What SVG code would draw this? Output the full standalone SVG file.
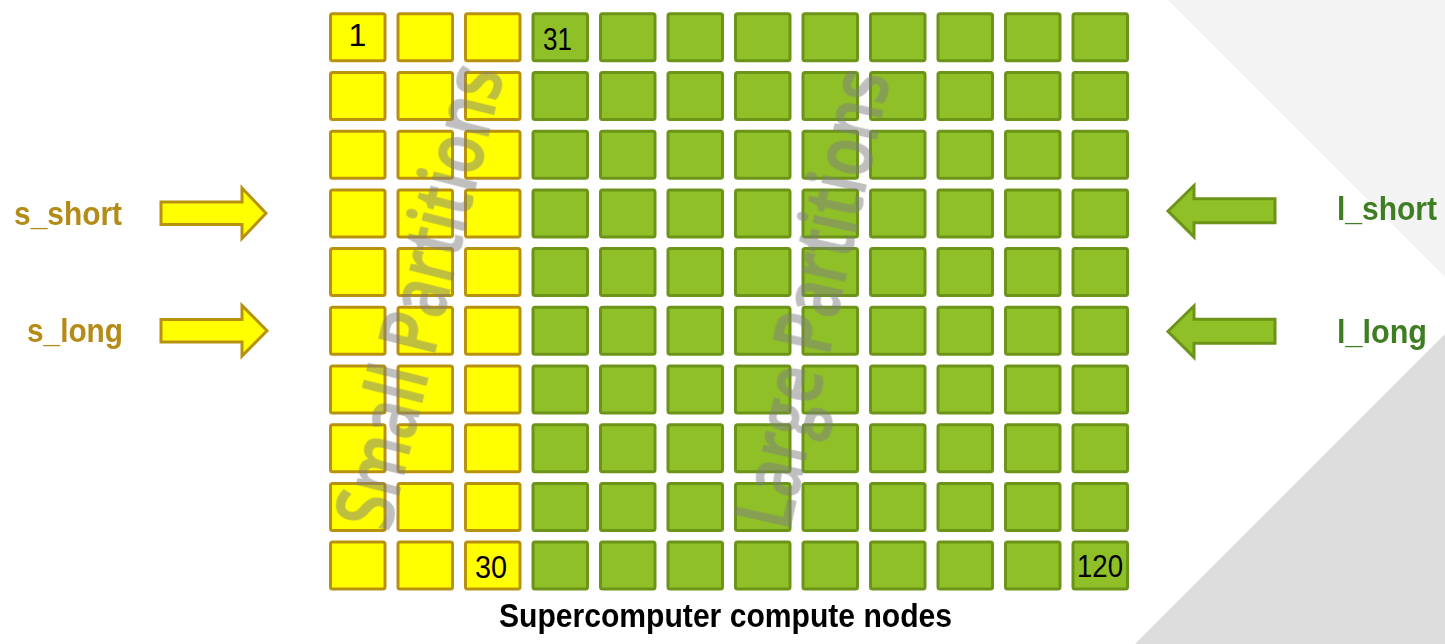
<svg xmlns="http://www.w3.org/2000/svg" width="1445" height="644" viewBox="0 0 1445 644">
<defs>
<style>
.s{fill:#FFFF00;stroke:#B8920F;stroke-width:3}
.l{fill:#90C027;stroke:#6B9419;stroke-width:3}
.num{font-family:"Liberation Sans Narrow","Liberation Sans",sans-serif;font-size:32px;fill:#000;text-anchor:middle}
.lbl{font-family:"Liberation Sans Narrow","Liberation Sans",sans-serif;font-weight:bold;font-size:33px}
.wm{font-family:"Open Sans","DejaVu Sans",sans-serif;font-weight:600;font-size:80px;fill:#7F7F7F;stroke:#7F7F7F;stroke-width:1.5}
</style>
<rect id="bs" class="s" width="54.5" height="47" rx="2"/>
<rect id="bl" class="l" width="54.5" height="47" rx="2"/>
</defs>
<rect width="1445" height="644" fill="#FFFFFF"/>
<polygon points="1168,0 1445,0 1445,277" fill="#F3F3F3"/>
<polygon points="1135,644 1445,334 1445,644" fill="#DDDDDD"/>
<g id="grid">
<g id="row0">
<g id="n1"><use href="#bs" x="330.5" y="13.8"/><text class="num" x="357.5" y="46" font-size="28">1</text></g>
<g id="n2"><use href="#bs" x="398" y="13.8"/></g>
<g id="n3"><use href="#bs" x="465.5" y="13.8"/></g>
<g id="n31"><use href="#bl" x="533" y="13.8"/><text class="num" x="557.5" y="49.5" textLength="29" lengthAdjust="spacingAndGlyphs">31</text></g>
<g id="n32"><use href="#bl" x="600.5" y="13.8"/></g>
<g id="n33"><use href="#bl" x="668" y="13.8"/></g>
<g id="n34"><use href="#bl" x="735.5" y="13.8"/></g>
<g id="n35"><use href="#bl" x="803" y="13.8"/></g>
<g id="n36"><use href="#bl" x="870.5" y="13.8"/></g>
<g id="n37"><use href="#bl" x="938" y="13.8"/></g>
<g id="n38"><use href="#bl" x="1005.5" y="13.8"/></g>
<g id="n39"><use href="#bl" x="1073" y="13.8"/></g>
</g>
<g id="row1">
<g id="n4"><use href="#bs" x="330.5" y="72.5"/></g>
<g id="n5"><use href="#bs" x="398" y="72.5"/></g>
<g id="n6"><use href="#bs" x="465.5" y="72.5"/></g>
<g id="n40"><use href="#bl" x="533" y="72.5"/></g>
<g id="n41"><use href="#bl" x="600.5" y="72.5"/></g>
<g id="n42"><use href="#bl" x="668" y="72.5"/></g>
<g id="n43"><use href="#bl" x="735.5" y="72.5"/></g>
<g id="n44"><use href="#bl" x="803" y="72.5"/></g>
<g id="n45"><use href="#bl" x="870.5" y="72.5"/></g>
<g id="n46"><use href="#bl" x="938" y="72.5"/></g>
<g id="n47"><use href="#bl" x="1005.5" y="72.5"/></g>
<g id="n48"><use href="#bl" x="1073" y="72.5"/></g>
</g>
<g id="row2">
<g id="n7"><use href="#bs" x="330.5" y="131.2"/></g>
<g id="n8"><use href="#bs" x="398" y="131.2"/></g>
<g id="n9"><use href="#bs" x="465.5" y="131.2"/></g>
<g id="n49"><use href="#bl" x="533" y="131.2"/></g>
<g id="n50"><use href="#bl" x="600.5" y="131.2"/></g>
<g id="n51"><use href="#bl" x="668" y="131.2"/></g>
<g id="n52"><use href="#bl" x="735.5" y="131.2"/></g>
<g id="n53"><use href="#bl" x="803" y="131.2"/></g>
<g id="n54"><use href="#bl" x="870.5" y="131.2"/></g>
<g id="n55"><use href="#bl" x="938" y="131.2"/></g>
<g id="n56"><use href="#bl" x="1005.5" y="131.2"/></g>
<g id="n57"><use href="#bl" x="1073" y="131.2"/></g>
</g>
<g id="row3">
<g id="n10"><use href="#bs" x="330.5" y="189.9"/></g>
<g id="n11"><use href="#bs" x="398" y="189.9"/></g>
<g id="n12"><use href="#bs" x="465.5" y="189.9"/></g>
<g id="n58"><use href="#bl" x="533" y="189.9"/></g>
<g id="n59"><use href="#bl" x="600.5" y="189.9"/></g>
<g id="n60"><use href="#bl" x="668" y="189.9"/></g>
<g id="n61"><use href="#bl" x="735.5" y="189.9"/></g>
<g id="n62"><use href="#bl" x="803" y="189.9"/></g>
<g id="n63"><use href="#bl" x="870.5" y="189.9"/></g>
<g id="n64"><use href="#bl" x="938" y="189.9"/></g>
<g id="n65"><use href="#bl" x="1005.5" y="189.9"/></g>
<g id="n66"><use href="#bl" x="1073" y="189.9"/></g>
</g>
<g id="row4">
<g id="n13"><use href="#bs" x="330.5" y="248.6"/></g>
<g id="n14"><use href="#bs" x="398" y="248.6"/></g>
<g id="n15"><use href="#bs" x="465.5" y="248.6"/></g>
<g id="n67"><use href="#bl" x="533" y="248.6"/></g>
<g id="n68"><use href="#bl" x="600.5" y="248.6"/></g>
<g id="n69"><use href="#bl" x="668" y="248.6"/></g>
<g id="n70"><use href="#bl" x="735.5" y="248.6"/></g>
<g id="n71"><use href="#bl" x="803" y="248.6"/></g>
<g id="n72"><use href="#bl" x="870.5" y="248.6"/></g>
<g id="n73"><use href="#bl" x="938" y="248.6"/></g>
<g id="n74"><use href="#bl" x="1005.5" y="248.6"/></g>
<g id="n75"><use href="#bl" x="1073" y="248.6"/></g>
</g>
<g id="row5">
<g id="n16"><use href="#bs" x="330.5" y="307.3"/></g>
<g id="n17"><use href="#bs" x="398" y="307.3"/></g>
<g id="n18"><use href="#bs" x="465.5" y="307.3"/></g>
<g id="n76"><use href="#bl" x="533" y="307.3"/></g>
<g id="n77"><use href="#bl" x="600.5" y="307.3"/></g>
<g id="n78"><use href="#bl" x="668" y="307.3"/></g>
<g id="n79"><use href="#bl" x="735.5" y="307.3"/></g>
<g id="n80"><use href="#bl" x="803" y="307.3"/></g>
<g id="n81"><use href="#bl" x="870.5" y="307.3"/></g>
<g id="n82"><use href="#bl" x="938" y="307.3"/></g>
<g id="n83"><use href="#bl" x="1005.5" y="307.3"/></g>
<g id="n84"><use href="#bl" x="1073" y="307.3"/></g>
</g>
<g id="row6">
<g id="n19"><use href="#bs" x="330.5" y="366"/></g>
<g id="n20"><use href="#bs" x="398" y="366"/></g>
<g id="n21"><use href="#bs" x="465.5" y="366"/></g>
<g id="n85"><use href="#bl" x="533" y="366"/></g>
<g id="n86"><use href="#bl" x="600.5" y="366"/></g>
<g id="n87"><use href="#bl" x="668" y="366"/></g>
<g id="n88"><use href="#bl" x="735.5" y="366"/></g>
<g id="n89"><use href="#bl" x="803" y="366"/></g>
<g id="n90"><use href="#bl" x="870.5" y="366"/></g>
<g id="n91"><use href="#bl" x="938" y="366"/></g>
<g id="n92"><use href="#bl" x="1005.5" y="366"/></g>
<g id="n93"><use href="#bl" x="1073" y="366"/></g>
</g>
<g id="row7">
<g id="n22"><use href="#bs" x="330.5" y="424.7"/></g>
<g id="n23"><use href="#bs" x="398" y="424.7"/></g>
<g id="n24"><use href="#bs" x="465.5" y="424.7"/></g>
<g id="n94"><use href="#bl" x="533" y="424.7"/></g>
<g id="n95"><use href="#bl" x="600.5" y="424.7"/></g>
<g id="n96"><use href="#bl" x="668" y="424.7"/></g>
<g id="n97"><use href="#bl" x="735.5" y="424.7"/></g>
<g id="n98"><use href="#bl" x="803" y="424.7"/></g>
<g id="n99"><use href="#bl" x="870.5" y="424.7"/></g>
<g id="n100"><use href="#bl" x="938" y="424.7"/></g>
<g id="n101"><use href="#bl" x="1005.5" y="424.7"/></g>
<g id="n102"><use href="#bl" x="1073" y="424.7"/></g>
</g>
<g id="row8">
<g id="n25"><use href="#bs" x="330.5" y="483.4"/></g>
<g id="n26"><use href="#bs" x="398" y="483.4"/></g>
<g id="n27"><use href="#bs" x="465.5" y="483.4"/></g>
<g id="n103"><use href="#bl" x="533" y="483.4"/></g>
<g id="n104"><use href="#bl" x="600.5" y="483.4"/></g>
<g id="n105"><use href="#bl" x="668" y="483.4"/></g>
<g id="n106"><use href="#bl" x="735.5" y="483.4"/></g>
<g id="n107"><use href="#bl" x="803" y="483.4"/></g>
<g id="n108"><use href="#bl" x="870.5" y="483.4"/></g>
<g id="n109"><use href="#bl" x="938" y="483.4"/></g>
<g id="n110"><use href="#bl" x="1005.5" y="483.4"/></g>
<g id="n111"><use href="#bl" x="1073" y="483.4"/></g>
</g>
<g id="row9">
<g id="n28"><use href="#bs" x="330.5" y="542.1"/></g>
<g id="n29"><use href="#bs" x="398" y="542.1"/></g>
<g id="n30"><use href="#bs" x="465.5" y="542.1"/><text class="num" x="491" y="578" textLength="32" lengthAdjust="spacingAndGlyphs">30</text></g>
<g id="n112"><use href="#bl" x="533" y="542.1"/></g>
<g id="n113"><use href="#bl" x="600.5" y="542.1"/></g>
<g id="n114"><use href="#bl" x="668" y="542.1"/></g>
<g id="n115"><use href="#bl" x="735.5" y="542.1"/></g>
<g id="n116"><use href="#bl" x="803" y="542.1"/></g>
<g id="n117"><use href="#bl" x="870.5" y="542.1"/></g>
<g id="n118"><use href="#bl" x="938" y="542.1"/></g>
<g id="n119"><use href="#bl" x="1005.5" y="542.1"/></g>
<g id="n120"><use href="#bl" x="1073" y="542.1"/><text class="num" x="1100" y="577" textLength="46" lengthAdjust="spacingAndGlyphs">120</text></g>
</g>
</g>
<g id="watermarks" opacity="0.5">
<text class="wm" transform="translate(389,533) rotate(-76)" textLength="474" lengthAdjust="spacingAndGlyphs">Small Partitions</text>
<text class="wm" transform="translate(789,532) rotate(-77.5)" textLength="466" lengthAdjust="spacingAndGlyphs">Large Partitions</text>
</g>
<g id="connectors">
<polygon class="s" points="161,202 242,202 242,188 266,213.3 242,238.5 242,224.5 161,224.5"/>
<polygon class="s" points="161,319.4 242,319.4 242,305.4 267,330.7 242,356 242,342 161,342"/>
<polygon class="l" points="1275,198.8 1194,198.8 1194,185.5 1168,211 1194,236.8 1194,222.8 1275,222.8"/>
<polygon class="l" points="1275,319.3 1194,319.3 1194,306 1168,331.5 1194,357.3 1194,343.3 1275,343.3"/>
</g>
<g id="labels">
<text class="lbl" x="14" y="225" fill="#B38B16" textLength="108" lengthAdjust="spacingAndGlyphs">s_short</text>
<text class="lbl" x="27" y="342" fill="#B38B16" textLength="96" lengthAdjust="spacingAndGlyphs">s_long</text>
<text class="lbl" x="1337" y="219.5" fill="#3E7D22" textLength="100" lengthAdjust="spacingAndGlyphs">l_short</text>
<text class="lbl" x="1337" y="343" fill="#3E7D22" textLength="90" lengthAdjust="spacingAndGlyphs">l_long</text>
<text class="lbl" x="499" y="627" fill="#000000" font-size="32" textLength="453" lengthAdjust="spacingAndGlyphs">Supercomputer compute nodes</text>
</g>
</svg>
